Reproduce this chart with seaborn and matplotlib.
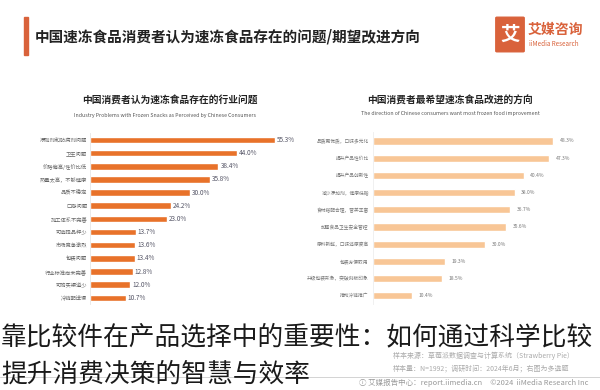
import matplotlib
matplotlib.use("Agg")
import matplotlib.pyplot as plt
import seaborn as sns
import pandas as pd
from matplotlib.patches import Rectangle, FancyBboxPatch

sns.set_theme(style="white")
plt.rcParams['font.family'] = ['Noto Sans CJK SC', 'DejaVu Sans']

left_labels = ["添加剂和防腐剂问题", "卫生问题", "价格偏高/性价比低", "热量太高，不够健康",
               "品质不稳定", "口感问题", "加工体系不完善", "可选择品种少", "市场竞争激烈",
               "包装问题", "行业标准尚未完善", "可购买渠道少", "冷链配送慢"]
left_values = [55.3, 44.0, 38.4, 35.8, 30.0, 24.2, 23.0, 13.7, 13.6, 13.4, 12.8, 12.0, 10.7]

right_labels = ["品质更优质，口味多元化", "提升产品性价比", "提升产品创新性", "减少添加剂，健康低脂",
                "食材搭配合理，营养丰富", "加强食品卫生安全管控", "原料新鲜，口味还原度高",
                "包装方便取用", "升级包装形象，突破刻板印象", "推动冷链推广"]
right_values = [48.3, 47.3, 40.4, 38.0, 36.7, 35.6, 30.0, 19.3, 18.5, 10.4]

W, H = 600, 390
fig = plt.figure(figsize=(6, 3.9), dpi=100)
fig.patch.set_facecolor("white")

def ax_px(x0, y0, w, h):
    return fig.add_axes([x0 / W, 1 - (y0 + h) / H, w / W, h / H])

# header
fig.patches.append(Rectangle((24 / W, 1 - 55 / H), 4 / W, 38 / H, transform=fig.transFigure,
                             color="#d9623b", zorder=3))
fig.text(35 / W, 1 - 36 / H, "中国速冻食品消费者认为速冻食品存在的问题/期望改进方向",
         fontsize=10.5, fontweight="bold", color="#222222", va="center", ha="left")
fig.patches.append(FancyBboxPatch((497 / W, 1 - 51 / H), 26 / W, 33 / H,
                                  boxstyle="round,pad=0.002", transform=fig.transFigure,
                                  color="#d9623b", zorder=3))
fig.text(510 / W, 1 - 35 / H, "艾", fontsize=14, fontweight="bold", color="white",
         ha="center", va="center", zorder=4)
fig.text(528 / W, 1 - 30 / H, "艾媒咨询", fontsize=10, fontweight="bold", color="#d9623b",
         ha="left", va="center")
fig.text(529 / W, 1 - 44 / H, "iiMedia Research", fontsize=4.5, color="#d9623b",
         ha="left", va="center")

# left chart
fig.text(170 / W, 1 - 100 / H, "中国消费者认为速冻食品存在的行业问题", fontsize=7,
         fontweight="bold", color="#222222", ha="center", va="center")
fig.text(165 / W, 1 - 115 / H, "Industry Problems with Frozen Snacks as Perceived by Chinese Consumers",
         fontsize=3.8, color="#555555", ha="center", va="center")

axL = ax_px(90, 133.4, 200.7, 171)
dfL = pd.DataFrame({"label": left_labels, "value": left_values})
sns.barplot(data=dfL, x="value", y="label", orient="h", color="#e8722a", width=0.5,
            saturation=1, ax=axL)
axL.set_xlim(0, 60)
axL.set_xlabel("")
axL.set_ylabel("")
axL.set_xticks([])
axL.tick_params(axis="y", length=0, pad=2, labelsize=3.8, labelcolor="#666666")
for s in ["top", "right", "bottom"]:
    axL.spines[s].set_visible(False)
axL.spines["left"].set_color("#e6e6e6")
axL.spines["left"].set_linewidth(0.6)
axL.patch.set_alpha(0)
for i, v in enumerate(left_values):
    axL.text(v + 0.6, i, f"{v:.1f}%", fontsize=4.6, color="#555566", va="center", ha="left")

# right chart
fig.text(450 / W, 1 - 100 / H, "中国消费者最希望速冻食品改进的方向", fontsize=7,
         fontweight="bold", color="#222222", ha="center", va="center")
fig.text(450 / W, 1 - 114 / H, "The direction of Chinese consumers want most frozen food improvement",
         fontsize=3.8, color="#555555", ha="center", va="center")

axR = ax_px(373, 132.4, 205, 172)
dfR = pd.DataFrame({"label": right_labels, "value": right_values})
sns.barplot(data=dfR, x="value", y="label", orient="h", color="#f8c696", width=0.42,
            saturation=1, ax=axR)
axR.set_xlim(0, 55)
axR.set_xlabel("")
axR.set_ylabel("")
axR.set_xticks([])
axR.tick_params(axis="y", length=0, pad=3, labelsize=3.4, labelcolor="#777777")
for s in ["top", "right", "bottom"]:
    axR.spines[s].set_visible(False)
axR.spines["left"].set_color("#eeeeee")
axR.spines["left"].set_linewidth(0.6)
axR.patch.set_alpha(0)
for i, v in enumerate(right_values):
    axR.text(v + 1.8, i, f"{v:.1f}%", fontsize=3.6, color="#777777", va="center", ha="left")

# footer source
fig.text(393 / W, 1 - 356 / H, "样本来源：草莓派数据调查与计算系统（Strawberry Pie）", fontsize=5.0,
         color="#aaaaaa", ha="left", va="center")
fig.text(393 / W, 1 - 368 / H, "样本量：N=1992；调研时间：2024年6月；右图为多选题", fontsize=5.0,
         color="#aaaaaa", ha="left", va="center")
fig.add_artist(plt.Line2D([0, 1], [1 - 377 / H, 1 - 377 / H], transform=fig.transFigure,
                          color="#cccccc", linewidth=0.6))
fig.text(588 / W, 1 - 383 / H, "ⓘ 艾媒报告中心：report.iimedia.cn     ©2024  iiMedia Research Inc",
         fontsize=5.4, color="#999999", ha="right", va="center")

# overlay headline
fig.text(1 / W, 1 - 337 / H, "靠比较件在产品选择中的重要性：如何通过科学比较", fontsize=18.5,
         color="#1a1a1a", ha="left", va="center")
fig.text(1 / W, 1 - 375 / H, "提升消费决策的智慧与效率", fontsize=18.5,
         color="#1a1a1a", ha="left", va="center")

fig.savefig("out.png", dpi=100, facecolor="white")
